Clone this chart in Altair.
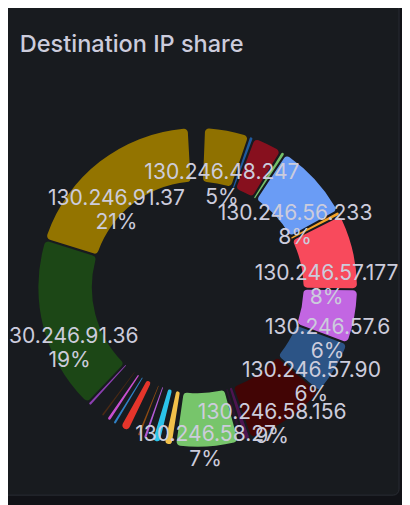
import altair as alt
import pandas as pd

# Slices in clockwise order from 12 o'clock (blank names = unlabeled small slices / empty runs)
names = ["", "130.246.48.247", "", "", "", "130.246.56.233", "", "130.246.57.177",
         "130.246.57.6", "130.246.57.90", "130.246.58.156", "", "", "130.246.58.27",
         "", "", "", "", "", "", "", "", "", "", "", "", "", "", "", "", "", "",
         "130.246.91.36", "130.246.91.37", ""]
shares = [0.69, 5.0, 0.54, 3.3, 0.54, 8.45, 0.54, 8.3,
          6.0, 6.1, 9.0, 0.7, 0.6, 7.0,
          0.27, 0.97, 0.36, 0.97, 0.54, 0.48, 0.27, 0.45, 0.94, 1.09, 0.45, 0.48, 0.24, 0.54, 0.33, 0.42, 1.39, 0.48,
          19.3, 20.9, 0.97]
colors = ["transparent", "#8f7100", "#1f5a9e", "#87101e", "#73bf69", "#6a9cf5", "#f4a428", "#f84a5c",
          "#c266e2", "#2c5486", "#420505", "#4d1450", "#2b1530", "#77c56b",
          "transparent", "#f2c14a", "transparent", "#2bc3ea", "transparent", "#b35ad5", "transparent", "#8c4a12",
          "transparent", "#e5352b", "transparent", "#2f80c4", "transparent", "#c84fd0", "transparent", "#4a2a14",
          "transparent", "#8b3fb0",
          "#1c4716", "#937400", "transparent"]

df = pd.DataFrame({"idx": list(range(len(shares))), "name": names, "share": shares, "color": colors})

CX, CY = 193.5, 280
base = alt.Chart(df).encode(
    theta=alt.Theta("share:Q", stack=True),
    order=alt.Order("idx:Q"),
    x=alt.value(CX), y=alt.value(CY),
)

arcs = base.mark_arc(innerRadius=108, outerRadius=162.5, padAngle=0.0113, cornerRadius=4).encode(
    color=alt.Color("color:N", scale=None)
)

name_txt = base.mark_text(radius=135, dy=22.5, fontSize=21.5, font="Inter", fill="#ccccdc",
                          align="center", baseline="alphabetic").encode(text="name:N")

pct_txt = base.transform_calculate(
    pct="datum.name != '' ? format(datum.share, '.0f') + '%' : ''"
).mark_text(radius=135, dy=47.5, fontSize=21.5, font="Inter", fill="#ccccdc",
            align="center", baseline="alphabetic").encode(text="pct:N")

panel = alt.Chart(alt.Data(values=[{"p": 1}])).mark_rect(
    fill="#181b1f", stroke="#2a2d34", strokeWidth=1, cornerRadius=6
).encode(x=alt.value(-10), x2=alt.value(399), y=alt.value(-10), y2=alt.value(492))

title = alt.Chart(alt.Data(values=[{"t": "Destination IP share"}])).mark_text(
    fontSize=24, font="Inter", fontWeight=500, fill="#ccccdc", align="left", baseline="alphabetic"
).encode(text="t:N", x=alt.value(12), y=alt.value(40))

chart = alt.layer(panel, arcs, name_txt, pct_txt, title).properties(
    width=402, height=497, padding=0, autosize="none", background="#111217"
).configure_view(strokeWidth=0)

chart.save("out.html", embed_options={"renderer": "svg", "actions": False})
